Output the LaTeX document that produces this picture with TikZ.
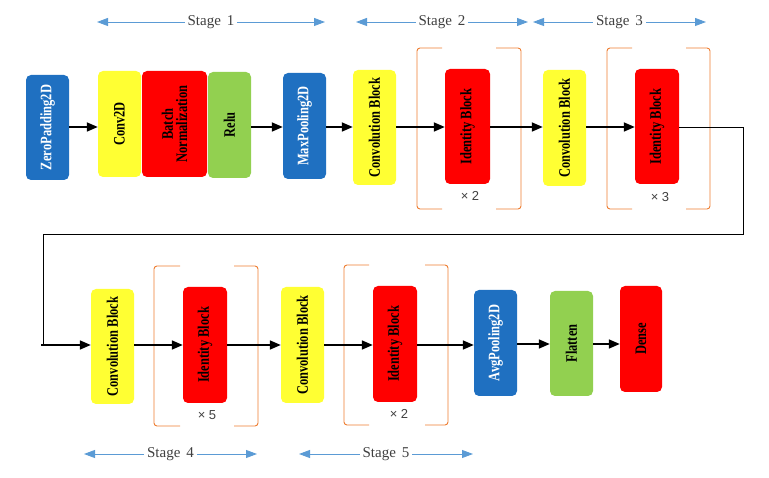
\documentclass[tikz,border=0pt]{standalone}
\usepackage{fontspec}
\setmainfont{Liberation Serif}
\newfontfamily\boxfont[FakeStretch=0.78]{Liberation Serif}
\newfontfamily\multfont{Liberation Sans}
\usetikzlibrary{arrows.meta}
\definecolor{boxblue}{HTML}{1F70C1}
\definecolor{boxyellow}{HTML}{FFFF33}
\definecolor{boxred}{HTML}{FF0000}
\definecolor{boxgreen}{HTML}{92D050}
\definecolor{stageblue}{HTML}{5B9BD5}
\definecolor{brackorange}{HTML}{ED7D31}
\definecolor{labgrey}{HTML}{404040}
\tikzset{
  blk/.style={rectangle, rounded corners=5pt, inner sep=0pt, draw=none,
    font=\boxfont\fontsize{16}{19}\selectfont\bfseries},
  blueblk/.style={blk, fill=boxblue, text=white},
  yellowblk/.style={blk, fill=boxyellow, text=black},
  redblk/.style={blk, fill=boxred, text=black},
  greenblk/.style={blk, fill=boxgreen, text=black},
  flow/.style={line width=1.7pt, -{Triangle[length=11pt,width=9pt]}},
  thinflow/.style={line width=0.9pt, black},
  stagearrow/.style={stageblue, line width=0.9pt,
    {Triangle[length=11pt,width=8pt]}-{Triangle[length=11pt,width=8pt]}},
  stagelab/.style={fill=white, text=labgrey, inner sep=3pt,
    font=\fontsize{15}{18}\selectfont},
  bracketline/.style={brackorange, line width=0.9pt, rounded corners=3pt},
  multlab/.style={text=labgrey, inner sep=0pt, font=\multfont\fontsize{13}{15}\selectfont},
}
\newcommand{\vtext}[1]{\rotatebox{90}{#1}}
\begin{document}
\begin{tikzpicture}[x=1pt,y=-1pt]
\useasboundingbox (0,0) rectangle (769,478);

% ---- brackets (row 1)
\draw[bracketline] (442,48) -- (417,48) -- (417,209) -- (442,209);
\draw[bracketline] (496,48) -- (521,48) -- (521,209) -- (496,209);
\draw[bracketline] (632,48) -- (607,48) -- (607,209) -- (632,209);
\draw[bracketline] (686,48) -- (710,48) -- (710,209) -- (686,209);
% ---- brackets (row 2)
\draw[bracketline] (180,266) -- (154,266) -- (154,426) -- (180,426);
\draw[bracketline] (234,266) -- (258,266) -- (258,426) -- (234,426);
\draw[bracketline] (369,265) -- (344,265) -- (344,425) -- (369,425);
\draw[bracketline] (425,265) -- (448,265) -- (448,425) -- (425,425);

% ---- row 1 blocks
\node[blueblk, minimum width=43pt, minimum height=105pt] (zp) at (47.5,127.5) {\vtext{ZeroPadding2D}};
\node[yellowblk, minimum width=43pt, minimum height=106pt] (conv) at (119.5,124) {\vtext{Conv2D}};
\node[redblk, minimum width=65pt, minimum height=106pt] (bn) at (174.5,124) {\vtext{\shortstack{Batch\\[0pt]Normalization}}};
\node[greenblk, minimum width=43pt, minimum height=106pt] (relu) at (229.5,125) {\vtext{Relu}};
\node[blueblk, minimum width=43pt, minimum height=106pt] (mp) at (304.5,126) {\vtext{MaxPooling2D}};
\node[yellowblk, minimum width=43pt, minimum height=115pt] (cb1) at (374.5,127.5) {\vtext{Convolution Block}};
\node[redblk, minimum width=45pt, minimum height=115pt] (id1) at (467.5,126.5) {\vtext{Identity Block}};
\node[yellowblk, minimum width=43pt, minimum height=116pt] (cb2) at (564.5,128) {\vtext{Convolution Block}};
\node[redblk, minimum width=44pt, minimum height=115pt] (id2) at (657,126.5) {\vtext{Identity Block}};

% ---- row 2 blocks
\node[yellowblk, minimum width=43pt, minimum height=115pt] (cb3) at (112.5,346.5) {\vtext{Convolution Block}};
\node[redblk, minimum width=44pt, minimum height=116pt] (id3) at (205,345) {\vtext{Identity Block}};
\node[yellowblk, minimum width=43pt, minimum height=116pt] (cb4) at (302.5,345) {\vtext{Convolution Block}};
\node[redblk, minimum width=44pt, minimum height=116pt] (id4) at (395,344) {\vtext{Identity Block}};
\node[blueblk, minimum width=43pt, minimum height=106pt] (ap) at (495.5,343) {\vtext{AvgPooling2D}};
\node[greenblk, minimum width=43pt, minimum height=105pt] (fl) at (571.5,343.5) {\vtext{Flatten}};
\node[redblk, minimum width=42pt, minimum height=106pt] (de) at (641,339) {\vtext{Dense}};

% ---- repetition labels
\node[multlab] (m1) at (470,196) {× 2};
\node[multlab] (m2) at (660,197) {× 3};
\node[multlab] (m3) at (207,415) {× 5};
\node[multlab] (m4) at (399,414) {× 2};

% ---- row 1 connectors
\coordinate (r1) at (0,127);
\draw[flow] (zp.east |- r1) -- (conv.west |- r1);
\draw[flow] (relu.east |- r1) -- (mp.west |- r1);
\draw[flow] (mp.east |- r1) -- (cb1.west |- r1);
\draw[flow] (cb1.east |- r1) -- (id1.west |- r1);
\draw[flow] (id1.east |- r1) -- (cb2.west |- r1);
\draw[flow] (cb2.east |- r1) -- (id2.west |- r1);

% ---- wrap-around connector
\coordinate (w1) at (743,127);
\coordinate (w2) at (743,234);
\coordinate (w3) at (43,234);
\coordinate (w4) at (43,345);
\coordinate (w5) at (41,345);
\draw[thinflow] (id2.east |- r1) -- (w1) -- (w2) -- (w3) -- (w4);

% ---- row 2 connectors
\coordinate (r2) at (0,345);
\draw[flow] (w5) -- (cb3.west |- r2);
\draw[flow] (cb3.east |- r2) -- (id3.west |- r2);
\draw[flow] (id3.east |- r2) -- (cb4.west |- r2);
\draw[flow] (cb4.east |- r2) -- (id4.west |- r2);
\draw[flow] (id4.east |- r2) -- (ap.west |- r2);
\coordinate (r3) at (0,344);
\draw[flow] (ap.east |- r3) -- (fl.west |- r3);
\draw[flow] (fl.east |- r3) -- (de.west |- r3);

% ---- stage arrows
\coordinate (s1a) at (97,22);  \coordinate (s1b) at (325,22);
\coordinate (s2a) at (356,22); \coordinate (s2b) at (528,22);
\coordinate (s3a) at (533,22); \coordinate (s3b) at (706,22);
\coordinate (s4a) at (84,454); \coordinate (s4b) at (257,454);
\coordinate (s5a) at (299,454); \coordinate (s5b) at (473,454);
\draw[stagearrow] (s1a) -- (s1b) node[stagelab, pos=0.5] (st1) {Stage\hspace{6pt}1};
\draw[stagearrow] (s2a) -- (s2b) node[stagelab, pos=0.5] (st2) {Stage\hspace{6pt}2};
\draw[stagearrow] (s3a) -- (s3b) node[stagelab, pos=0.5] (st3) {Stage\hspace{6pt}3};
\draw[stagearrow] (s4a) -- (s4b) node[stagelab, pos=0.5] (st4) {Stage\hspace{6pt}4};
\draw[stagearrow] (s5a) -- (s5b) node[stagelab, pos=0.5] (st5) {Stage\hspace{6pt}5};
\end{tikzpicture}
\end{document}
